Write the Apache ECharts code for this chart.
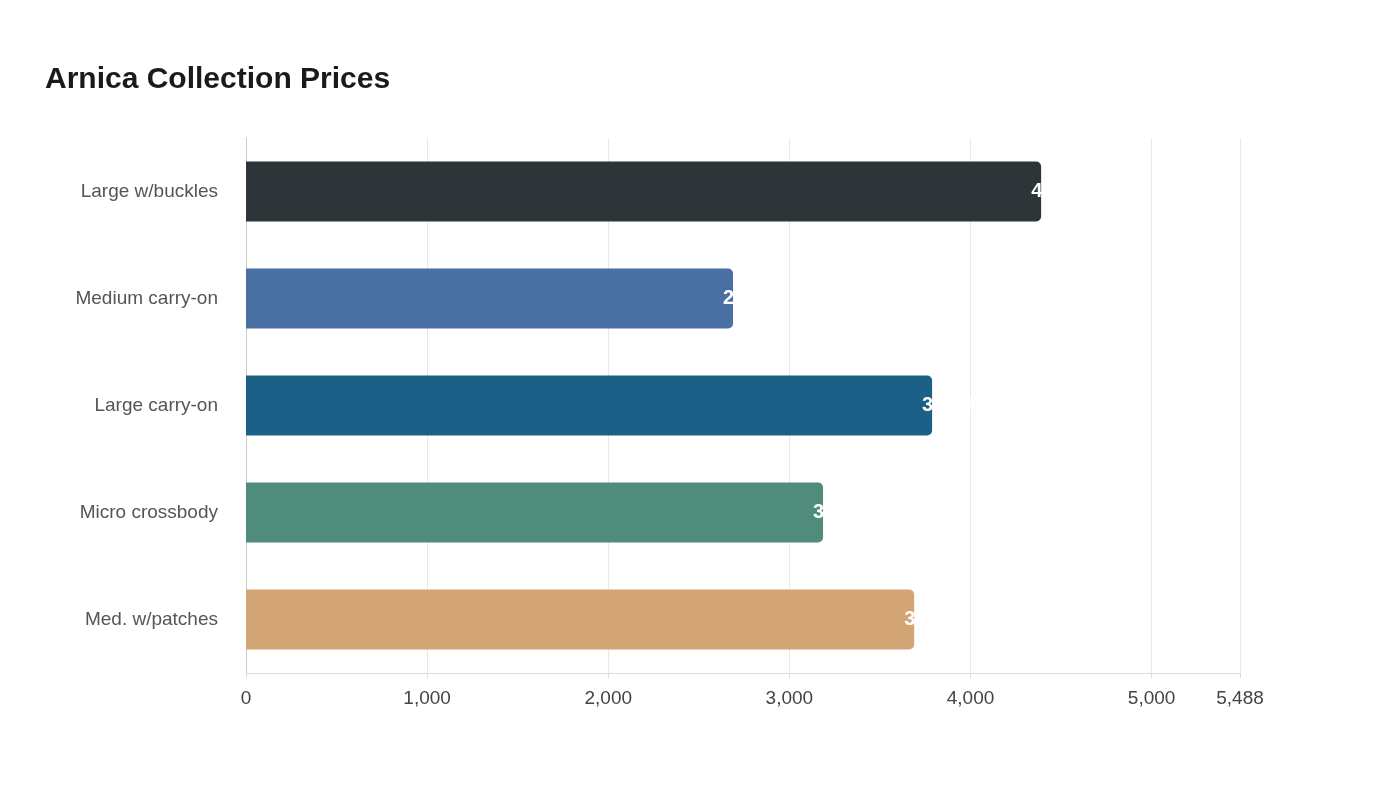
<!DOCTYPE html><html><head><meta charset="utf-8">
<script src="https://cdn.jsdelivr.net/npm/echarts@6/dist/echarts.min.js"></script>
<style>html,body{margin:0;background:#fff}#c{width:1400px;height:800px}</style></head><body><div id="c"></div>
<script>
const categories=["Large w/buckles","Medium carry-on","Large carry-on","Micro crossbody","Med. w/patches"];
const values=[4390,2689,3788,3186,3689];
const colors=["#2e3538","#4a6fa3","#1a6087","#4f8c7c","#d3a574"];
const axisMax=5488;
const chart=echarts.init(document.getElementById('c'));
chart.setOption({
 backgroundColor:'#fff',
 title:{text:'Arnica Collection Prices',left:40,top:60,textStyle:{fontFamily:'Liberation Sans, Arial',fontSize:30,fontWeight:'bold',color:'#1a1a1a'}},
 grid:{left:246,right:160,top:138,bottom:127},
 xAxis:{type:'value',min:0,max:axisMax,interval:1000,
  axisLine:{show:true,lineStyle:{color:'#ddd'}},axisTick:{show:true,lineStyle:{color:'#ddd'}},
  splitLine:{lineStyle:{color:'#e8e8e8'}},
  axisLabel:{showMaxLabel:true,color:'#444',fontSize:19,fontFamily:'Liberation Sans, Arial',margin:16,
   formatter:v=>Math.round(v).toLocaleString('en-US')}},
 yAxis:{type:'category',inverse:true,data:categories,
  axisLine:{lineStyle:{color:'#ccc'}},axisTick:{show:false},
  axisLabel:{color:'#555',fontSize:19,fontFamily:'Liberation Sans, Arial',margin:28}},
 series:[{type:'bar',barWidth:60,
  data:values.map((v,i)=>({value:v,itemStyle:{color:colors[i]}})),
  itemStyle:{borderRadius:[0,5,5,0]},
  label:{show:true,position:'right',distance:-10,color:'#fff',fontWeight:'bold',fontSize:20,
   formatter:p=>p.value.toLocaleString('en-US')}}]
});
</script></body></html>
